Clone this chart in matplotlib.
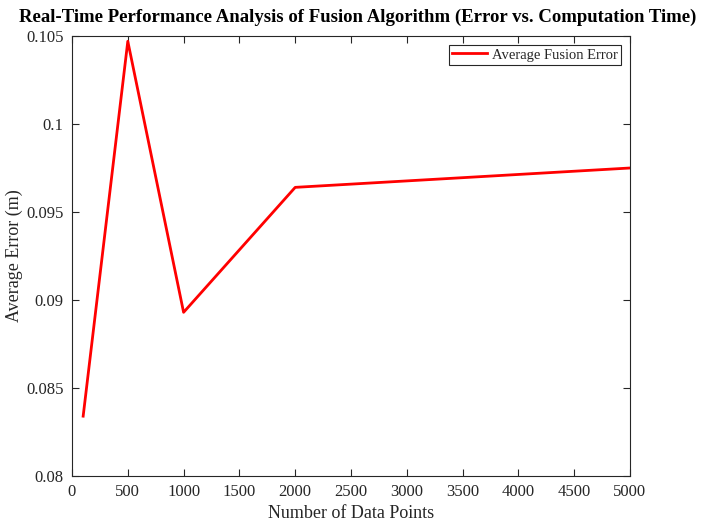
import numpy as np
import matplotlib as mpl
mpl.use('Agg')
from matplotlib import pyplot as plt

data_points = [100, 500, 1000, 2000, 5000]
avg_error = [0.0834, 0.1047, 0.0893, 0.0964, 0.0975]

x_ticks = [0, 500, 1000, 1500, 2000, 2500, 3000, 3500, 4000, 4500, 5000]
y_ticks = [0.08, 0.085, 0.09, 0.095, 0.1, 0.105]
y_tick_labels = ['0.08', '0.085', '0.09', '0.095', '0.1', '0.105']

plt.rcParams['font.family'] = ['Liberation Serif', 'DejaVu Serif']
grey = '#262626'

fig = plt.figure(figsize=(7.02, 5.26), dpi=100)
ax = fig.add_axes([72 / 702, 1 - 476 / 526, 558 / 702, 440 / 526])

ax.plot(data_points, avg_error, color='red', linewidth=2, label='Average Fusion Error')

ax.set_xlim(0, 5000)
ax.set_ylim(0.08, 0.105)
ax.set_xticks(x_ticks)
ax.set_yticks(y_ticks)
ax.set_yticklabels(y_tick_labels)
ax.tick_params(direction='in', top=True, right=True, length=5, width=0.8,
               labelsize=12, colors=grey)
ax.tick_params(axis='x', pad=6)
ax.tick_params(axis='y', pad=6)
for s in ax.spines.values():
    s.set_color(grey)
    s.set_linewidth(0.8)

ax.set_xlabel('Number of Data Points', fontsize=13, color=grey, labelpad=3)
ax.set_ylabel('Average Error (m)', fontsize=13, color=grey, labelpad=2)
ax.set_title('Real-Time Performance Analysis of Fusion Algorithm (Error vs. Computation Time)',
             fontsize=13.5, fontweight='bold', color='black', pad=10, x=0.512)

leg = ax.legend(loc='upper right', fontsize=10.5, fancybox=False, framealpha=1,
                edgecolor=grey, handlelength=2.4, handletextpad=0.3,
                borderpad=0.25, borderaxespad=0.6)
leg.get_frame().set_linewidth(0.8)
for t in leg.get_texts():
    t.set_color(grey)

fig.savefig('out.png', dpi=100)
